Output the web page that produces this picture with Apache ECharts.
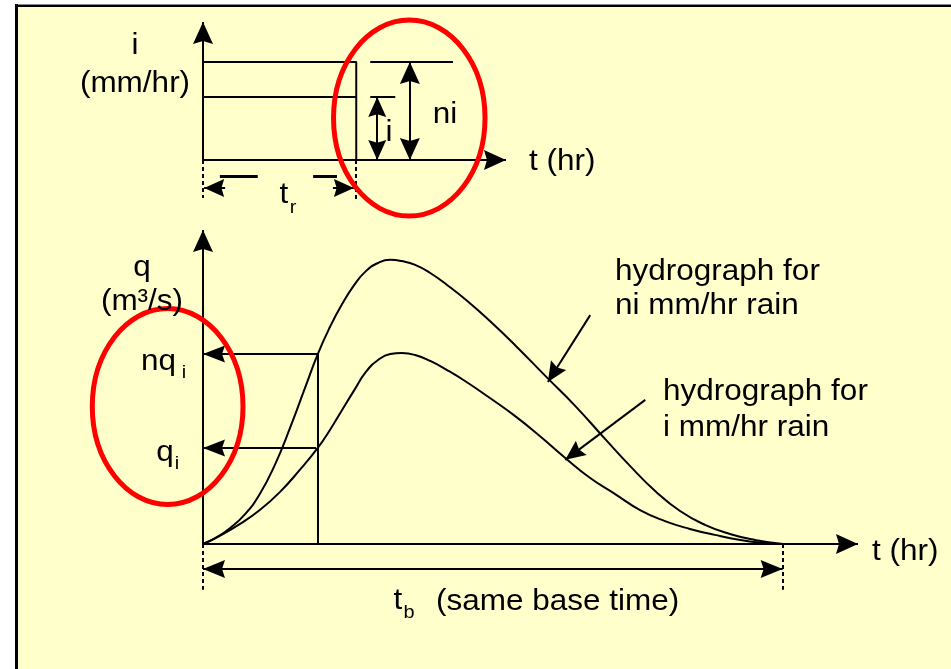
<!DOCTYPE html>
<html>
<head>
<meta charset="utf-8">
<title>hydrograph</title>
<script src="https://cdn.jsdelivr.net/npm/echarts@6/dist/echarts.min.js"></script>
<style>
  html, body { margin: 0; padding: 0; background: #fff; }
  #chart { width: 951px; height: 669px; }
</style>
</head>
<body>
<div id="chart"></div>
<script>
// top panel: rain of duration tr at intensity i and ni
let tr = 2.63;
let rainI = 4.57;
let rainNI = 7.1;

// bottom panel: the two hydrographs, t against q
let tUpper = [0, 0.21, 0.47, 0.73, 0.98, 1.24, 1.50, 1.76, 1.98, 2.19, 2.40, 2.61, 2.81, 3.02, 3.23, 3.43, 3.66, 3.92, 4.21, 4.56, 4.95, 5.38, 5.94, 6.42, 6.94, 7.37, 7.80, 8.23, 8.66, 9.09, 9.52, 10];
let qUpper = [0, 0.19, 0.51, 0.96, 1.59, 2.52, 3.69, 4.97, 6.05, 6.91, 7.64, 8.25, 8.69, 8.95, 9.05, 9.01, 8.89, 8.63, 8.25, 7.74, 7.10, 6.34, 5.29, 4.40, 3.34, 2.48, 1.69, 1.05, 0.61, 0.32, 0.13, 0];
let tLower = [0, 0.29, 0.64, 0.98, 1.33, 1.67, 1.98, 2.19, 2.40, 2.61, 2.81, 3.02, 3.23, 3.43, 3.66, 3.92, 4.21, 4.52, 4.95, 5.38, 5.81, 6.25, 6.68, 7.11, 7.54, 7.97, 8.40, 8.83, 9.27, 9.70, 10];
let qLower = [0, 0.26, 0.64, 1.08, 1.66, 2.36, 3.06, 3.63, 4.27, 4.90, 5.48, 5.86, 6.05, 6.08, 6.02, 5.83, 5.54, 5.19, 4.65, 4.08, 3.44, 2.74, 2.10, 1.59, 1.08, 0.73, 0.48, 0.29, 0.13, 0.03, 0];

let tb = 10;       // base time
let tRead = 1.98;
let nqi = 6.05;
let qi = 3.06;

// red ellipses: centre t, centre value, half width, half height
let ellipseTop = [3.54, 3.04, 1.30, 7.1];
let ellipseBottom = [-0.61, 4.38, 1.30, 3.12];

let font = 'Liberation Sans, Arial, sans-serif';
let head = 'path://M10,0 L20,22 L10,19 L0,22 Z';

function zip(xs, ys) {
    return xs.map(function (x, k) { return [x, ys[k]]; });
}

function seg(from, to, heads, size) {
    let s = size || [16, 22];
    // symbols sit centred on the end point, pull them back so the tip lands on it
    let off = [0, s[1] / 2];
    return [
        {coord: from, symbol: heads === 'both' ? head : 'none', symbolSize: s, symbolOffset: off},
        {coord: to, symbol: heads === 'none' ? 'none' : head, symbolSize: s, symbolOffset: off}
    ];
}

function marks(xi, lines, type, width) {
    return {
        type: 'line', xAxisIndex: xi, yAxisIndex: xi, data: [], clip: false, silent: true,
        markLine: {
            silent: true, animation: false, symbol: 'none', precision: 4,
            label: {show: false},
            emphasis: {disabled: true},
            lineStyle: {color: '#000', width: width || 2, type: type || 'solid'},
            data: lines
        }
    };
}

function ellipse(xi, item) {
    return {
        type: 'custom', xAxisIndex: xi, yAxisIndex: xi, silent: true, z: 10,
        data: [item],
        renderItem: function (params, api) {
            let c = api.coord([api.value(0), api.value(1)]);
            let s = api.size([api.value(2), api.value(3)]);
            return {
                type: 'ellipse',
                shape: {cx: c[0], cy: c[1], rx: s[0], ry: s[1]},
                style: {fill: 'none', stroke: '#ff0000', lineWidth: 5}
            };
        }
    };
}

function label(text, x, y, size, align) {
    return {
        type: 'text', x: x, y: y, scaleX: 1.05, silent: true, z: 20,
        style: {
            text: text, fontSize: size || 30, fontFamily: font, fill: '#000',
            align: align || 'center', verticalAlign: 'middle'
        }
    };
}

let myChart = echarts.init(document.getElementById('chart'), null, {renderer: 'canvas'});
myChart.setOption({
    animation: false,
    backgroundColor: '#ffffcc',
    grid: [
        {left: 203, top: 22, width: 303, height: 179.4, containLabel: false, outerBoundsMode: 'none'},
        {left: 203, top: 230, width: 655, height: 376.8, containLabel: false, outerBoundsMode: 'none'}
    ],
    xAxis: [
        {type: 'value', gridIndex: 0, min: 0, max: 5.2, show: false},
        {type: 'value', gridIndex: 1, min: 0, max: 11.3, show: false}
    ],
    yAxis: [
        {type: 'value', gridIndex: 0, min: -3, max: 10, show: false},
        {type: 'value', gridIndex: 1, min: -2, max: 10, show: false}
    ],
    series: [
        {
            type: 'line', xAxisIndex: 0, yAxisIndex: 0, symbol: 'none', silent: true, clip: false,
            lineStyle: {color: '#000', width: 2},
            data: [[0, rainNI], [tr, rainNI], [tr, 0]]
        },
        {
            type: 'line', xAxisIndex: 0, yAxisIndex: 0, symbol: 'none', silent: true, clip: false,
            lineStyle: {color: '#000', width: 2},
            data: [[0, rainI], [tr, rainI]]
        },
        {
            type: 'line', xAxisIndex: 1, yAxisIndex: 1, symbol: 'none', silent: true, clip: false,
            smooth: 0.5, lineStyle: {color: '#000', width: 2},
            data: zip(tUpper, qUpper)
        },
        {
            type: 'line', xAxisIndex: 1, yAxisIndex: 1, symbol: 'none', silent: true, clip: false,
            smooth: 0.5, lineStyle: {color: '#000', width: 2},
            data: zip(tLower, qLower)
        },
        marks(0, [
            seg([0, 0], [0, 10], 'end', [20, 22]),
            seg([0, 0], [5.2, 0], 'end', [20, 22]),
            seg([2.87, rainNI], [4.29, rainNI], 'none'),
            seg([3.55, 0], [3.55, rainNI], 'both', [20, 22]),
            seg([2.87, rainI], [3.30, rainI], 'none'),
            seg([2.99, 0], [2.99, rainI], 'both', [18, 20]),
            seg([0.38, -2.03], [0.02, -2.03], 'end', [18, 20]),
            seg([2.23, -2.03], [2.59, -2.03], 'end', [18, 20])
        ]),
        marks(0, [
            seg([0.29, -1.16], [0.94, -1.16], 'none'),
            seg([1.89, -1.16], [2.30, -1.16], 'none')
        ], 'solid', 3),
        marks(0, [
            seg([0, 0], [0, -2.75], 'none'),
            seg([tr, 0], [tr, -3], 'none')
        ], [4, 3], 2),
        marks(1, [
            seg([0, 0], [0, 10], 'end', [20, 22]),
            seg([0, 0], [11.3, 0], 'end', [20, 22]),
            seg([tRead, 0], [tRead, nqi], 'none'),
            seg([tRead, nqi], [0, nqi], 'end', [17, 22]),
            seg([1.95, qi], [0, qi], 'end', [17, 22]),
            seg([0, -0.8], [tb, -0.8], 'both', [18, 22]),
            seg([6.68, 7.29], [5.95, 5.16], 'end', [18, 20]),
            seg([7.63, 4.59], [6.25, 2.68], 'end', [18, 20])
        ]),
        marks(1, [
            seg([0, 0], [0, -1.46], 'none'),
            seg([tb, 0], [tb, -1.46], 'none')
        ], [4, 3], 2),
        ellipse(0, ellipseTop),
        ellipse(1, ellipseBottom)
    ],
    graphic: [
        {type: 'rect', silent: true, shape: {x: 0, y: 0, width: 15, height: 669}, style: {fill: '#fff'}},
        {type: 'rect', silent: true, shape: {x: 0, y: 0, width: 951, height: 4}, style: {fill: '#fff'}},
        {type: 'line', silent: true, shape: {x1: 15, y1: 4.5, x2: 951, y2: 4.5}, style: {stroke: '#888', lineWidth: 1}},
        {type: 'line', silent: true, shape: {x1: 16, y1: 6, x2: 951, y2: 6}, style: {stroke: '#000', lineWidth: 2}},
        {type: 'line', silent: true, shape: {x1: 16.5, y1: 4, x2: 16.5, y2: 669}, style: {stroke: '#000', lineWidth: 3}},

        label('i', 135, 46),
        label('(mm/hr)', 135, 84),
        label('t (hr)', 529, 162, 30, 'left'),
        label('ni', 445, 115),
        label('i', 389, 133),
        label('t', 284, 195),
        label('r', 293, 208, 19),

        label('q', 142, 268),
        label('(m\u00b3/s)', 142, 302),
        label('nq', 176, 362, 30, 'right'),
        label('i', 184, 373, 19),
        label('q', 165, 453),
        label('i', 177, 464, 19),
        label('t (hr)', 872, 552, 30, 'left'),
        label('t', 398, 601),
        label('b', 409, 613, 19),
        label('(same base time)', 436, 602, 30, 'left'),
        label('hydrograph for', 615, 272, 30, 'left'),
        label('ni mm/hr rain', 615, 306, 30, 'left'),
        label('hydrograph for', 663, 392, 30, 'left'),
        label('i mm/hr rain', 663, 428, 30, 'left')
    ]
});
</script>
</body>
</html>
